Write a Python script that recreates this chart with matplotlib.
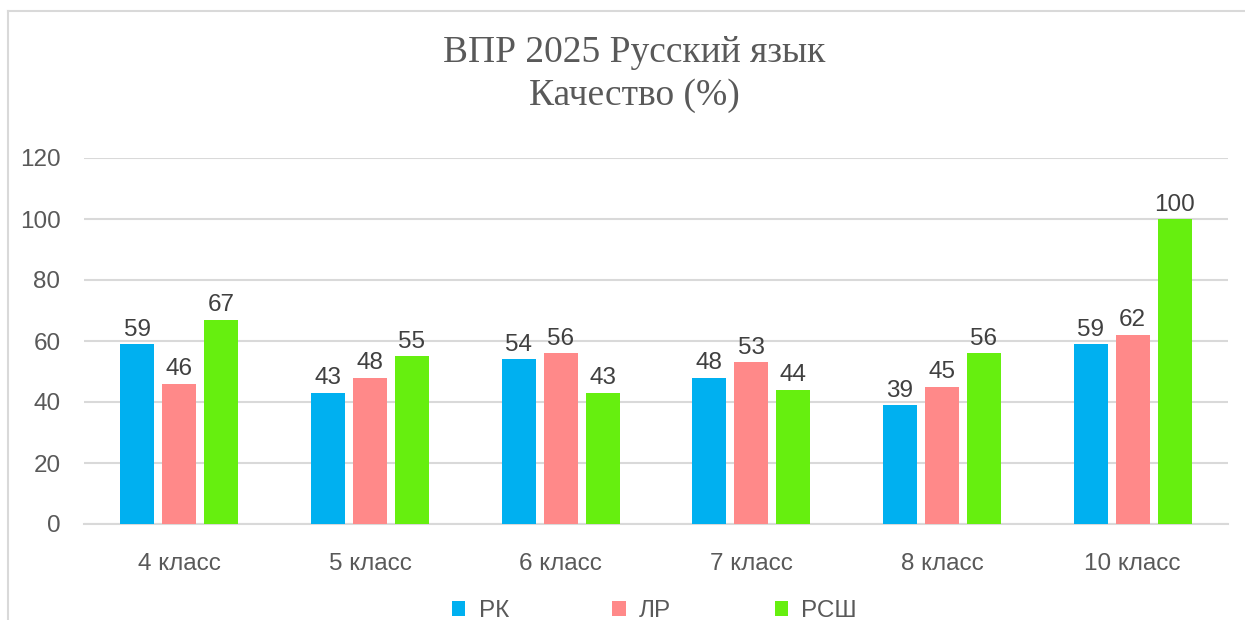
import matplotlib
matplotlib.use("Agg")
import matplotlib.pyplot as plt
import numpy as np
from matplotlib.patches import Patch
from matplotlib.lines import Line2D

categories = ["4 класс", "5 класс", "6 класс", "7 класс", "8 класс", "10 класс"]
series_names = ["РК", "ЛР", "РСШ"]
rk = [59, 43, 54, 48, 39, 59]
lr = [46, 48, 56, 53, 45, 62]
rsh = [67, 55, 43, 44, 56, 100]
colors = ["#00b0f0", "#ff8989", "#66ef0f"]
yticks = [0, 20, 40, 60, 80, 100, 120]
title_lines = ["ВПР 2025 Русский язык", "Качество (%)"]

W, H = 1245, 620
fig = plt.figure(figsize=(W / 100, H / 100), dpi=100)
fig.patch.set_facecolor("white")

# outer chart border
fig.add_artist(Line2D([8 / W, 8 / W], [0, 1 - 11 / H], color="#d9d9d9", lw=1.5, transform=fig.transFigure))
fig.add_artist(Line2D([8 / W, 1], [1 - 11 / H, 1 - 11 / H], color="#d9d9d9", lw=1.5, transform=fig.transFigure))

FS = 17.5
ax = fig.add_axes([84 / W, 1 - 524 / H, (1228 - 84) / W, (524 - 158) / H])
x = np.arange(len(categories))
bw = 0.178
step = 0.22
for i, (vals, name, c) in enumerate(zip([rk, lr, rsh], series_names, colors)):
    pos = x + (i - 1) * step
    bars = ax.bar(pos, vals, width=bw, color=c, label=name, zorder=3)
    for b, v in zip(bars, vals):
        ax.annotate(str(v), (b.get_x() + b.get_width() / 2, v), xytext=(0, 2.5), textcoords="offset points",
                    ha="center", va="bottom", fontsize=FS, color="#404040", family="Liberation Sans")

ax.set_xlim(-0.5, len(categories) - 0.5)
ax.set_ylim(0, 120)
ax.set_yticks(yticks)
ax.set_yticklabels([str(t) for t in yticks], fontsize=FS, color="#595959", family="Liberation Sans")
ax.set_xticks(x)
ax.set_xticklabels(categories, fontsize=FS, color="#595959", family="Liberation Sans")
ax.tick_params(axis="both", length=0)
ax.tick_params(axis="y", pad=17)
ax.tick_params(axis="x", pad=21)
ax.grid(axis="y", color="#d9d9d9", lw=1.5, zorder=0)
for s in ["top", "right", "left"]:
    ax.spines[s].set_visible(False)
ax.spines["bottom"].set_color("#d9d9d9")
ax.spines["bottom"].set_linewidth(1.5)

fig.text(0.5 + 12 / W, 1 - 53 / H, title_lines[0], ha="center", va="center",
         fontsize=27, color="#595959", family="Liberation Serif")
fig.text(0.5 + 12 / W, 1 - 96 / H, title_lines[1], ha="center", va="center",
         fontsize=27, color="#595959", family="Liberation Serif")

handles = [Patch(facecolor=c, label=n) for c, n in zip(colors, series_names)]
fig.legend(handles=handles, loc="center", bbox_to_anchor=(0.5 + 32 / W, 1 - 611 / H), ncol=3, frameon=False,
           prop={"family": "Liberation Sans", "size": FS}, labelcolor="#595959",
           handlelength=0.55, handleheight=0.55, handletextpad=0.55, columnspacing=4.25)

fig.savefig("out.png", dpi=100, facecolor="white")
